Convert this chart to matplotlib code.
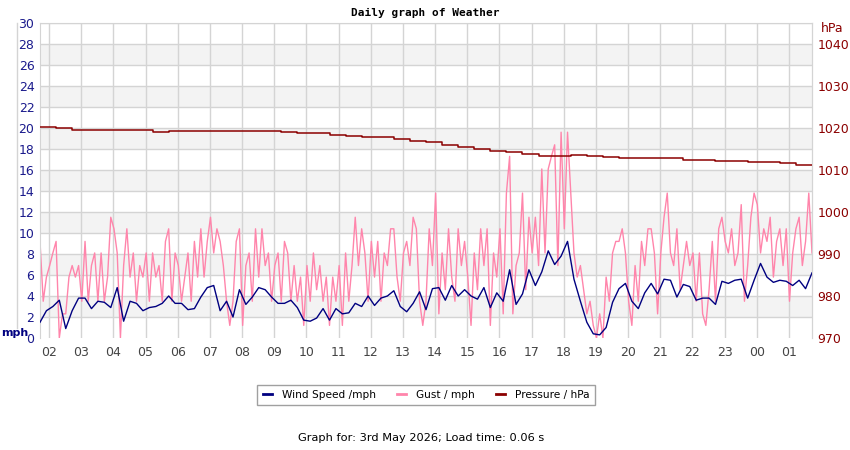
import numpy as np
import matplotlib
matplotlib.use("Agg")
import matplotlib.pyplot as plt
from matplotlib.lines import Line2D

# time axis: hours since midnight of the first day, graph covers 24 h from 01:43
start_hour = 1.72
span_hours = 24.0

# wind speed (mph), one reading every 0.2 h
wind_mph = [
    1.5, 2.6, 3.0, 3.6, 0.9, 2.6, 3.8, 3.8, 2.8, 3.5,
    3.4, 2.9, 4.8, 1.6, 3.5, 3.3, 2.6, 2.9, 3.0, 3.3,
    4.0, 3.3, 3.3, 2.7, 2.8, 3.9, 4.8, 5.0, 2.6, 3.5,
    2.0, 4.6, 3.2, 3.9, 4.8, 4.6, 3.9, 3.3, 3.3, 3.6,
    2.9, 1.7, 1.6, 1.9, 2.8, 1.7, 2.8, 2.3, 2.4, 3.3,
    3.0, 4.0, 3.1, 3.8, 4.0, 4.5, 3.0, 2.5, 3.3, 4.4,
    2.7, 4.7, 4.8, 3.6, 5.0, 4.0, 4.6, 4.0, 3.7, 4.8,
    2.9, 4.3, 3.5, 6.5, 3.2, 4.2, 6.5, 5.0, 6.3, 8.3,
    7.0, 7.8, 9.2, 5.6, 3.5, 1.5, 0.4, 0.3, 1.0, 3.4,
    4.7, 5.2, 3.5, 2.8, 4.3, 5.2, 4.2, 5.6, 5.5, 3.9,
    5.1, 4.9, 3.6, 3.8, 3.8, 3.2, 5.4, 5.2, 5.5, 5.6,
    3.8, 5.5, 7.1, 5.8, 5.3, 5.5, 5.4, 5.0, 5.5, 4.7,
    6.2,
]

# gust (mph), one reading every 0.1 h
gust_mph = [
    9.2, 3.5, 5.8, 6.9, 8.1, 9.2, 0.0, 2.3, 2.3, 5.8,
    6.9, 5.8, 6.9, 3.5, 9.2, 3.5, 6.9, 8.1, 3.5, 8.1,
    3.5, 5.8, 11.5, 10.4, 8.1, 0.0, 6.9, 10.4, 5.8, 8.1,
    3.5, 6.9, 5.8, 8.1, 3.5, 8.1, 5.8, 6.9, 3.5, 9.2,
    10.4, 3.5, 8.1, 6.9, 3.5, 5.8, 8.1, 3.5, 9.2, 5.8,
    10.4, 5.8, 9.2, 11.5, 8.1, 10.4, 9.2, 6.9, 3.5, 1.2,
    3.5, 9.2, 10.4, 1.2, 6.9, 8.1, 3.5, 10.4, 5.8, 10.4,
    6.9, 8.1, 3.5, 6.9, 8.1, 3.5, 9.2, 8.1, 3.5, 6.9,
    3.5, 5.8, 1.2, 6.9, 3.5, 8.1, 4.6, 6.9, 3.5, 5.8,
    1.2, 5.8, 3.5, 6.9, 1.2, 8.1, 3.5, 6.9, 11.5, 6.9,
    10.4, 8.1, 3.5, 9.2, 5.8, 9.2, 3.5, 8.1, 6.9, 10.4,
    10.4, 5.8, 3.5, 8.1, 9.2, 6.9, 11.5, 10.4, 3.5, 1.2,
    3.5, 10.4, 6.9, 13.8, 2.3, 8.1, 4.6, 10.4, 5.8, 3.5,
    10.4, 6.9, 9.2, 5.8, 1.2, 8.1, 4.6, 10.4, 6.9, 10.4,
    1.2, 8.1, 5.8, 10.4, 2.3, 13.8, 17.3, 2.3, 6.9, 8.1,
    13.8, 4.6, 11.5, 8.1, 11.5, 6.9, 16.1, 8.1, 16.1, 17.3,
    18.4, 6.9, 19.6, 10.4, 19.6, 13.8, 8.1, 5.8, 6.9, 4.6,
    2.3, 3.5, 1.2, 0.0, 2.3, 0.0, 5.8, 3.5, 8.1, 9.2,
    9.2, 10.4, 8.1, 3.5, 1.2, 6.9, 3.5, 9.2, 6.9, 10.4,
    10.4, 8.1, 2.3, 8.1, 11.5, 13.8, 8.1, 6.9, 10.4, 4.6,
    6.9, 9.2, 6.9, 8.1, 3.5, 8.1, 2.3, 1.2, 4.6, 9.2,
    3.5, 10.4, 11.5, 9.2, 8.1, 10.4, 6.9, 8.1, 12.7, 3.5,
    6.9, 11.5, 13.8, 12.7, 8.1, 10.4, 9.2, 11.5, 5.8, 9.2,
    10.4, 6.9, 10.4, 3.5, 8.1, 10.4, 11.5, 6.9, 9.2, 13.8,
    8.1,
]

# pressure (hPa), one reading every 0.5 h
pressure_hpa = [
    1020.2, 1019.9, 1019.5, 1019.5, 1019.5, 1019.5, 1019.5, 1019.0, 1019.2, 1019.2,
    1019.2, 1019.2, 1019.2, 1019.2, 1019.2, 1019.1, 1018.9, 1018.7, 1018.4, 1018.2,
    1017.8, 1017.8, 1017.4, 1016.9, 1016.7, 1016.0, 1015.4, 1015.0, 1014.5, 1014.2,
    1013.8, 1013.4, 1013.3, 1013.6, 1013.4, 1013.0, 1012.8, 1012.8, 1012.8, 1012.8,
    1012.5, 1012.3, 1012.1, 1012.1, 1011.8, 1011.8, 1011.6, 1011.3, 1011.3,
]

hour_ticks = list(range(2, 26))
hour_labels = ["%02d" % (h % 24) for h in hour_ticks]

mph_ticks = list(range(0, 31, 2))
hpa_ticks = [970, 980, 990, 1000, 1010, 1020, 1030, 1040]

NAVY = "#000080"
PINK = "#ff85ab"
DARKRED = "#8b0000"
GRIDC = "#d4d4d4"

t_wind = start_hour + np.linspace(0, span_hours, len(wind_mph))
t_gust = start_hour + np.linspace(0, span_hours, len(gust_mph))
t_pres = start_hour + np.linspace(0, span_hours, len(pressure_hpa))

W, H = 850, 450
fig = plt.figure(figsize=(W / 100, H / 100), dpi=100, facecolor="white")
ax = fig.add_axes([40 / W, 1 - 338 / H, 772 / W, 315 / H])
ax.set_xlim(start_hour, start_hour + span_hours)
ax.set_ylim(0, 30)

# alternating bands + grid
for lo in range(2, 28, 4):
    ax.axhspan(lo, lo + 2, color="#f3f3f3", lw=0, zorder=0)
for y in mph_ticks[1:]:
    ax.axhline(y, color=GRIDC, lw=1, zorder=0.5)
for h in hour_ticks:
    ax.axvline(h, color=GRIDC, lw=1, zorder=0.5)

ax.plot(t_gust, gust_mph, color=PINK, lw=1, zorder=2)
ax.plot(t_wind, wind_mph, color=NAVY, lw=1, zorder=3)

ax.set_yticks(mph_ticks)
ax.set_yticklabels([str(v) for v in mph_ticks])
ax.set_xticks(hour_ticks)
ax.set_xticklabels(hour_labels)
ax.tick_params(axis="y", length=0, pad=4, labelsize=9, labelcolor="#1a1a8c")
ax.tick_params(axis="x", length=0, pad=6, labelsize=9, labelcolor="#444444")
for side in ["top", "right", "left"]:
    ax.spines[side].set_color(GRIDC)
ax.spines["bottom"].set_visible(False)

ax2 = ax.twinx()
ax2.set_ylim(970, 1045)
ax2.plot(t_pres, pressure_hpa, color=DARKRED, lw=1.1, drawstyle="steps-post", zorder=4)
ax2.set_yticks(hpa_ticks)
ax2.set_yticklabels([str(v) for v in hpa_ticks])
ax2.tick_params(axis="y", length=0, pad=4, labelsize=9, labelcolor=DARKRED)
for s in ax2.spines.values():
    s.set_visible(False)
ax2.spines["right"].set_visible(True)
ax2.spines["right"].set_color(GRIDC)

# left axis line, units
fig.add_artist(Line2D([16.5 / W, 16.5 / W], [1 - 23 / H, 1 - 328 / H], color=GRIDC, lw=1))
fig.text(1 / W, 1 - 333 / H, "mph", color=NAVY, fontsize=8, fontweight="bold",
         ha="left", va="center")
fig.text(832 / W, 1 - 29 / H, "hPa", color=DARKRED, fontsize=9, ha="center", va="center")

fig.text(425 / W, 1 - 13 / H, "Daily graph of Weather", fontsize=8, fontweight="bold",
         family="DejaVu Sans Mono", ha="center", va="center")

handles = [Line2D([], [], color=c, lw=2) for c in (NAVY, PINK, DARKRED)]
leg = fig.legend(handles, ["Wind Speed /mph", "Gust / mph", "Pressure / hPa"],
                 loc="center", bbox_to_anchor=(426 / W, 1 - 395 / H), ncol=3,
                 fontsize=7.6, frameon=True, fancybox=False, handlelength=0.9,
                 handletextpad=0.9, columnspacing=2.0, borderpad=0.5)
leg.get_frame().set_edgecolor("#888888")
leg.get_frame().set_linewidth(1)

fig.text(421 / W, 1 - 438 / H, "Graph for: 3rd May 2026; Load time: 0.06 s",
         fontsize=8.2, ha="center", va="center")

fig.savefig("out.png", dpi=100, facecolor="white")
